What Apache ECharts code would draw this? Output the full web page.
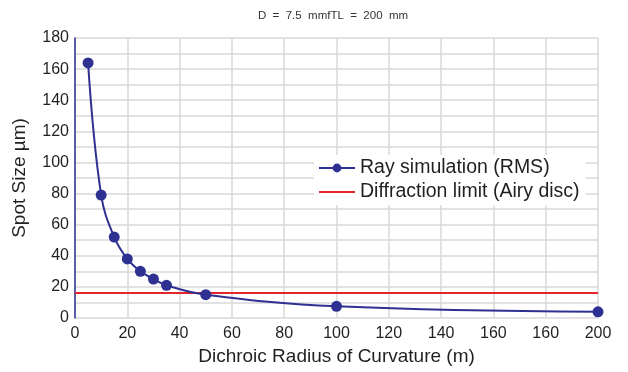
<!DOCTYPE html>
<html>
<head>
<meta charset="utf-8">
<script src="https://cdn.jsdelivr.net/npm/echarts@6/dist/echarts.min.js"></script>
<style>
  html, body { margin: 0; padding: 0; background: #fff; }
  #chart { width: 628px; height: 372px; }
</style>
</head>
<body>
<div id="chart"></div>
<script>
// ray-traced RMS spot size vs dichroic radius
const radius = [5, 10, 15, 20, 25, 30, 35, 50, 100, 200];
const spotRms = [164, 79, 52, 38, 30, 25, 21, 15, 7.5, 4];

// diffraction limit (Airy disc), flat
const limitX = [0, 200];
const limitY = [16, 16];

// x tick labels as printed (180 reads "160" in the original)
const xTickLabels = ["0", "20", "40", "60", "80", "100", "120", "140", "160", "160", "200"];

const TEXT = "#231f20";
const FONT = "Liberation Sans, Arial, sans-serif";

const chart = echarts.init(document.getElementById("chart"));

chart.setOption({
  animation: false,
  backgroundColor: "#fff",
  textStyle: { fontFamily: FONT },
  title: {
    text: "D  =  7.5  mmfTL  =  200  mm",
    left: 328,
    top: 5,
    textAlign: "center",
    textStyle: { fontSize: 11.5, fontWeight: "normal", color: "#333", fontFamily: FONT },
  },
  grid: { left: 75, right: 30, top: 38, bottom: 54 },
  legend: {
    orient: "vertical",
    left: 314,
    top: 155,
    itemWidth: 36,
    itemHeight: 11,
    itemGap: 4,
    backgroundColor: "#fff",
    padding: [3, 6, 3, 4],
    textStyle: { fontSize: 19.5, color: TEXT, fontFamily: FONT },
    data: [
      "Ray simulation (RMS)",
      // plain line swatch, no dot
      { name: "Diffraction limit (Airy disc)", icon: "path://M0,0H36V2H0Z" },
    ],
  },
  xAxis: {
    type: "value",
    min: 0,
    max: 200,
    interval: 20,
    name: "Dichroic Radius of Curvature (m)",
    nameLocation: "middle",
    nameGap: 28,
    nameTextStyle: { fontSize: 19, color: TEXT },
    axisLine: { show: false },
    axisTick: { show: false },
    axisLabel: {
      fontSize: 16,
      color: TEXT,
      margin: 8,
      formatter: (v) => xTickLabels[Math.round(v / 20)],
    },
    splitLine: { lineStyle: { color: "#d9d9d9", width: 1.5 } },
  },
  yAxis: {
    type: "value",
    min: 0,
    max: 180,
    interval: 10,
    name: "Spot Size µm)",
    nameLocation: "middle",
    nameGap: 46,
    nameTextStyle: { fontSize: 19, color: TEXT },
    axisLine: { show: true, onZero: false, lineStyle: { color: "#2e3192", width: 1.5 } },
    axisTick: { show: false },
    axisLabel: {
      fontSize: 16,
      color: TEXT,
      margin: 6,
      formatter: (v) => (v % 20 === 0 ? String(v) : ""),
    },
    splitLine: { lineStyle: { color: "#d9d9d9", width: 1.5 } },
  },
  series: [
    {
      name: "Diffraction limit (Airy disc)",
      type: "line",
      data: limitX.map((x, i) => [x, limitY[i]]),
      symbol: "none",
      lineStyle: { color: "#e2262a", width: 2 },
      itemStyle: { color: "#e2262a" },
      z: 2,
    },
    {
      name: "Ray simulation (RMS)",
      type: "line",
      data: radius.map((x, i) => [x, spotRms[i]]),
      smooth: 0.4,
      symbol: "circle",
      symbolSize: 11,
      lineStyle: { color: "#2e3192", width: 2 },
      itemStyle: { color: "#2e3192" },
      z: 3,
    },
  ],
});
</script>
</body>
</html>
